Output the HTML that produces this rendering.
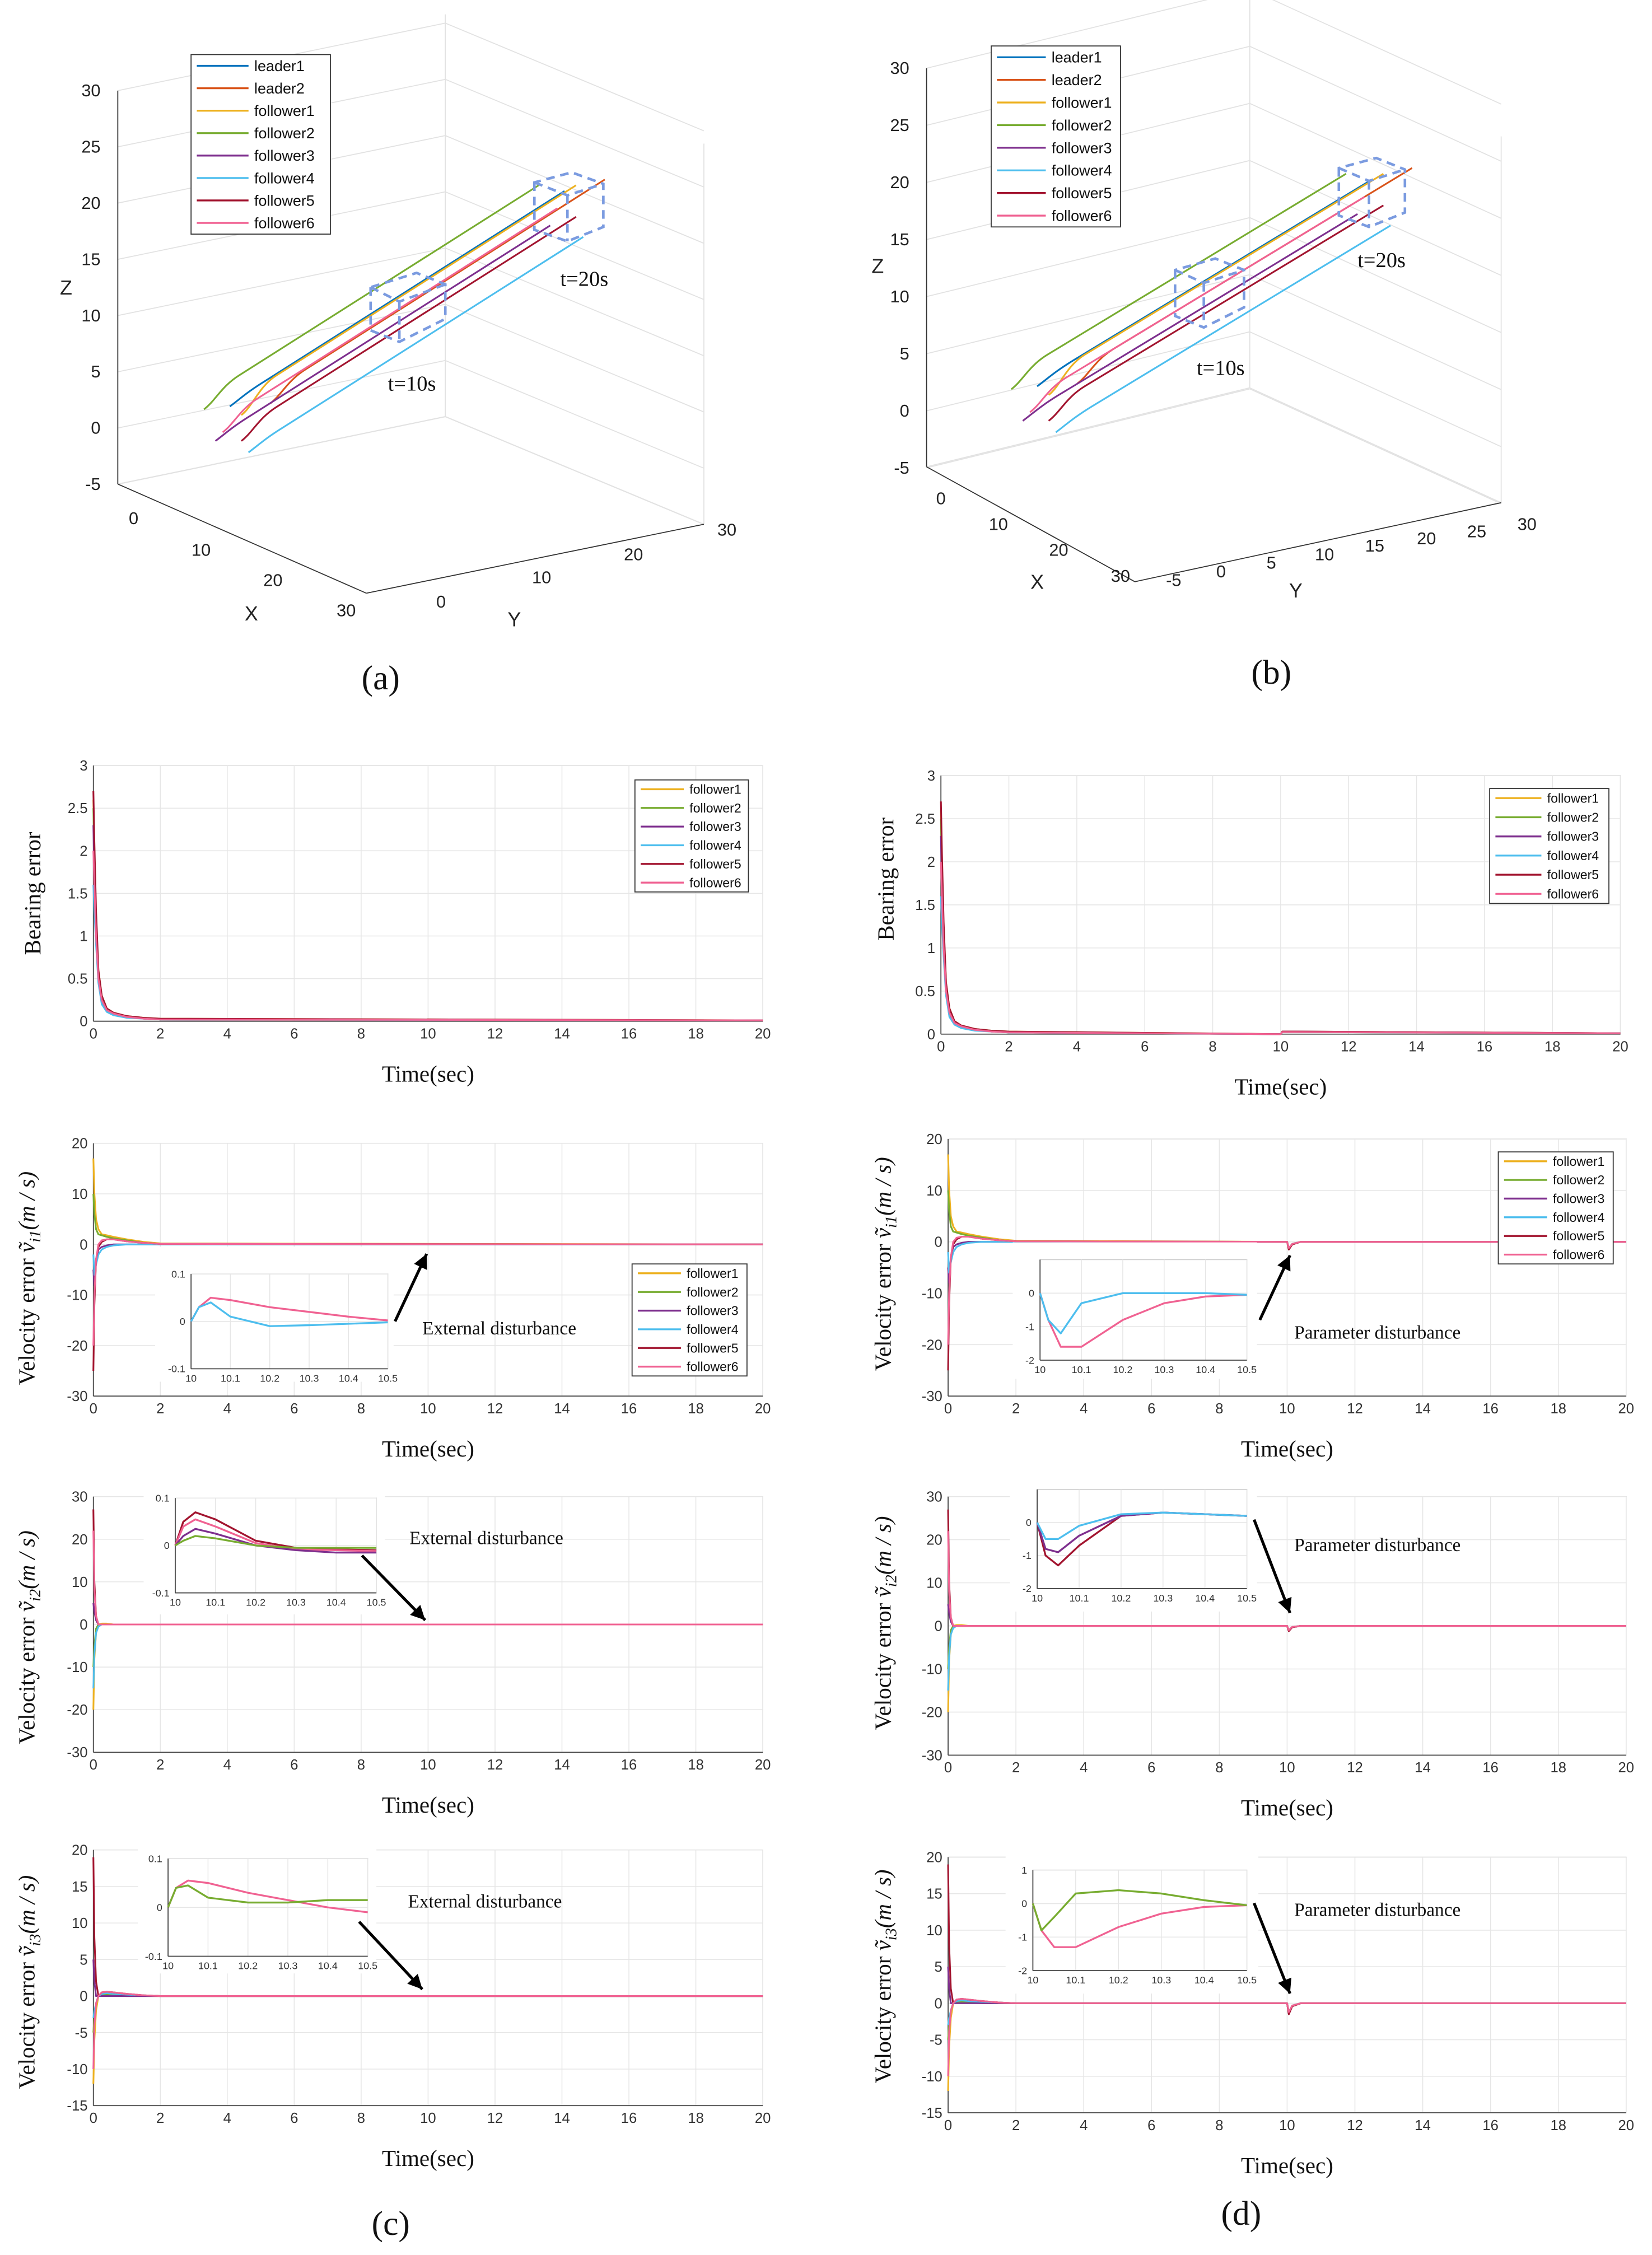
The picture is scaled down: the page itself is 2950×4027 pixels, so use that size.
<!DOCTYPE html>
<html><head><meta charset="utf-8"><style>html,body{margin:0;padding:0;background:#fff}svg{display:block}</style></head>
<body>
<svg id="fig" xmlns="http://www.w3.org/2000/svg" width="2950" height="4027" viewBox="0 0 1150 1570" preserveAspectRatio="none" font-family="Liberation Sans, sans-serif">
<rect width="1150" height="1570" fill="#fff"/>
<g id="root"></g>
</svg>
<script>
const NS='http://www.w3.org/2000/svg';
const root=document.getElementById('root');
function el(tag,attrs,parent,txt){const e=document.createElementNS(NS,tag);for(const k in attrs)e.setAttribute(k,attrs[k]);if(txt!==undefined)e.textContent=txt;(parent||root).appendChild(e);return e;}
const COL={leader1:'#0072BD',leader2:'#D95319',follower1:'#EDB120',follower2:'#77AC30',follower3:'#7E2F8E',follower4:'#4DBEEE',follower5:'#A2142F',follower6:'#F06292'};
const FNAMES=['follower1','follower2','follower3','follower4','follower5','follower6'];
const LNAMES=['leader1','leader2','follower1','follower2','follower3','follower4','follower5','follower6'];

// ---- time-series data ----
const T=[0,0.03,0.08,0.15,0.25,0.4,0.6,1,1.5,2,20];
const bearing=[[2.6,2.0,1.2,0.6,0.3,0.15,0.1,0.06,0.04,0.03,0.01],[2.5,1.9,1.1,0.5,0.25,0.13,0.09,0.05,0.03,0.02,0.01],[2.3,1.7,1.0,0.5,0.22,0.12,0.08,0.05,0.03,0.02,0.01],[1.6,1.3,0.9,0.45,0.2,0.11,0.07,0.04,0.03,0.02,0.01],[2.7,2.1,1.3,0.6,0.3,0.15,0.1,0.06,0.04,0.03,0.01],[2.0,1.6,1.0,0.5,0.25,0.13,0.09,0.05,0.03,0.02,0.01]];
const vel1=[[17,10,5,3,2,1.8,1.5,1,0.5,0.2,0],[10,6,3,2,1.8,1.5,1.2,0.8,0.3,0.1,0],[-5,-8,-3,-1,-0.5,-0.2,0,0,0,0,0],[-2,-6,-4,-2,-1,-0.5,-0.2,0,0,0,0],[-25,-12,-3,-0.5,0.5,1,1,0.6,0.3,0.1,0],[-20,-10,-3,0,0.8,1,1,0.6,0.3,0.1,0]];
const vel2=[[-20,-8,-2,0,0.2,0.2,0,0,0,0,0],[-10,-5,-1,0,0,0,0,0,0,0,0],[5,3,1,0,0,0,0,0,0,0,0],[-15,-7,-2,-0.5,0,0,0,0,0,0,0],[27,10,2,0,0,0,0,0,0,0,0],[22,8,2,0,0,0,0,0,0,0,0]];
const vel3=[[-12,-6,-2,0,0.3,0.4,0.3,0.2,0.1,0,0],[-5,-3,-1,0,0.2,0.2,0.1,0,0,0,0],[5,2,0,0,0,0,0,0,0,0,0],[-3,-2,-1,0,0.3,0.4,0.3,0.2,0.1,0,0],[19,8,2,0,0.5,0.6,0.5,0.3,0.1,0,0],[-10,-4,-1,0,0.5,0.6,0.5,0.3,0.1,0,0]];
// disturbance near t=10 (panel d)
const DT=[9.95,10.0,10.05,10.15,10.4];
const dist1=[0,0,-1.5,-0.5,0];
const dist2=[0,0,-1.2,-0.3,0];
const dist3=[0,0,-1.5,-0.4,0];
// inset data
const IT=[10,10.02,10.05,10.1,10.2,10.3,10.4,10.5];
const insC1=[[0,0.03,0.05,0.045,0.03,0.02,0.01,0.002],[0,0.03,0.04,0.01,-0.01,-0.008,-0.005,-0.002]];
const insD1=[[0,-0.8,-1.6,-1.6,-0.8,-0.3,-0.1,-0.05],[0,-0.8,-1.2,-0.3,0,0,0,-0.05]];
const insC2=[[0,0.05,0.07,0.055,0.01,-0.005,-0.008,-0.01],[0,0.04,0.055,0.04,0.005,-0.008,-0.01,-0.012],[0,0.02,0.035,0.025,0.0,-0.01,-0.015,-0.015],[0,0.01,0.02,0.015,0.0,-0.005,-0.005,-0.005]];
const insD2=[[0,-1,-1.3,-0.7,0.2,0.3,0.25,0.2],[0,-0.8,-0.9,-0.4,0.2,0.3,0.25,0.2],[0,-0.5,-0.5,-0.1,0.25,0.3,0.25,0.2]];
const insC3=[[0,0.04,0.055,0.05,0.03,0.015,0.0,-0.01],[0,0.04,0.045,0.02,0.01,0.01,0.015,0.015]];
const insD3=[[0,-0.8,-1.3,-1.3,-0.7,-0.3,-0.1,-0.05],[0,-0.8,-0.4,0.3,0.4,0.3,0.1,-0.05]];

function axis(o){
 const g=el('g',{});
 const X=v=>o.x0+(v-o.xmin)/(o.xmax-o.xmin)*(o.x1-o.x0);
 const Y=v=>o.y1-(v-o.ymin)/(o.ymax-o.ymin)*(o.y1-o.y0);
 el('rect',{x:o.x0,y:o.y0,width:o.x1-o.x0,height:o.y1-o.y0,fill:'#fff',stroke:'#ccc','stroke-width':0.6},g);
 o.xt.forEach(v=>{el('line',{x1:X(v),x2:X(v),y1:o.y0,y2:o.y1,stroke:'#e6e6e6','stroke-width':0.6},g);
  const t=el('text',{x:X(v),y:o.y1+o.fs+2,'font-size':o.fs,'text-anchor':'middle',fill:'#333'},g,String(v));});
 o.yt.forEach(v=>{el('line',{x1:o.x0,x2:o.x1,y1:Y(v),y2:Y(v),stroke:'#e6e6e6','stroke-width':0.6},g);
  const t=el('text',{x:o.x0-4,y:Y(v)+o.fs*0.35,'font-size':o.fs,'text-anchor':'end',fill:'#333'},g,String(v));});
 el('line',{x1:o.x0,x2:o.x1,y1:o.y1,y2:o.y1,stroke:'#444','stroke-width':0.7},g);
 el('line',{x1:o.x0,x2:o.x0,y1:o.y0,y2:o.y1,stroke:'#444','stroke-width':0.7},g);
 return {g,X,Y};
}
function series(ax,xs,ys,col,name,w){
 const p=xs.map((x,i)=>(i?'L':'M')+ax.X(x).toFixed(2)+','+ax.Y(ys[i]).toFixed(2)).join('');
 const e=el('path',{d:p,fill:'none',stroke:col,'stroke-width':w||1.2,'stroke-linejoin':'round'},ax.g);
 
}
function legend(x,y,w,h,names,fs,lw){
 const g=el('g',{});
 el('rect',{x,y,width:w,height:h,fill:'#fff',stroke:'#333','stroke-width':0.7},g);
 const step=h/names.length;
 names.forEach((n,i)=>{const yy=y+step*(i+0.5);
  el('line',{x1:x+4,x2:x+4+lw,y1:yy,y2:yy,stroke:COL[n],'stroke-width':1.3},g);
  const t=el('text',{x:x+8+lw,y:yy+fs*0.35,'font-size':fs,fill:'#111'},g,n);});
}
function serifText(x,y,s,size,name,rot,anchor){
 const a={x,y,'font-size':size,'font-family':'Liberation Serif, serif','text-anchor':anchor||'middle',fill:'#111'};
 if(rot)a.transform=`rotate(-90 ${x} ${y})`;
 const t=el('text',a,root,s);return t;
}
function ylab(x,y,sub){
 const t=el('text',{x,y,'font-size':16,'font-family':'Liberation Serif, serif','text-anchor':'middle',fill:'#111',transform:`rotate(-90 ${x} ${y})`});
 
 t.innerHTML='Velocity error  <tspan font-style="italic">ṽ</tspan><tspan font-style="italic" font-size="11" dy="4">i'+sub+'</tspan><tspan dy="-4" font-style="italic">(m / s)</tspan>';
}
function arrow(x1,y1,x2,y2){
 const g=el('g',{});
 el('line',{x1,y1,x2,y2,stroke:'#000','stroke-width':2},g);
 const a=Math.atan2(y2-y1,x2-x1),L=10,W=5;
 const p=[[x2,y2],[x2-L*Math.cos(a)+W*Math.sin(a),y2-L*Math.sin(a)-W*Math.cos(a)],[x2-L*Math.cos(a)-W*Math.sin(a),y2-L*Math.sin(a)+W*Math.cos(a)]];
 el('polygon',{points:p.map(q=>q.join(',')).join(' '),fill:'#000'},g);
}
const XT=[0,2,4,6,8,10,12,14,16,18,20];
function mainPlot(o,data,dist,cols){
 const ax=axis({name:o.name,x0:o.x0,x1:o.x1,y0:o.y0,y1:o.y1,xmin:0,xmax:20,ymin:o.ymin,ymax:o.ymax,xt:XT,yt:o.yt,fs:10});
 data.forEach((ys,i)=>{
  let xs=T.slice(),vs=ys.slice();
  if(dist){const last=xs.pop();const lv=vs.pop();xs=xs.concat(DT,[last]);vs=vs.concat(dist.map(d=>d*(i%2?0.8:1)),[lv]);}
  series(ax,xs,vs,COL[FNAMES[i]],FNAMES[i]+'-line');
 });
 serifText((o.x0+o.x1)/2,o.y1+42,'Time(sec)',16,'x-axis-title');
 return ax;
}
function inset(o,data,cols){
 el('rect',{x:o.bx,y:o.by,width:o.bw,height:o.bh,fill:'#fff'});
 const ax=axis({name:'inset-plot',x0:o.x0,x1:o.x1,y0:o.y0,y1:o.y1,xmin:10,xmax:10.5,ymin:o.ymin,ymax:o.ymax,xt:[10,10.1,10.2,10.3,10.4,10.5],yt:o.yt,fs:7});
 data.forEach((ys,i)=>series(ax,IT,ys,cols[i],'inset-line',1.3));
}

// ---------- 3D panels ----------
function panel3d(o){
 const g=el('g',{});
 const gl=(a,b,c)=>el('line',{x1:a[0],y1:a[1],x2:b[0],y2:b[1],stroke:c||'#e2e2e2','stroke-width':0.7},g);
 o.zt.forEach((z,i)=>{const y=o.zy(z);gl([o.L[0],y],[o.B[0],y-(o.L[1]-o.B[1])]);gl([o.B[0],y-(o.L[1]-o.B[1])],[o.R[0],y-(o.L[1]-o.B[1])+(o.R[1]-o.B[1])]);});
 gl([o.B[0],o.B[1]],[o.B[0],o.top]);
 gl(o.L,o.B);gl(o.B,o.R);
 gl([o.R[0],o.R[1]],[o.R[0],o.rtop]);
 gl(o.L,o.F,'#333');gl(o.F,o.R,'#333');gl([o.L[0],o.L[1]],[o.L[0],o.zy(30)],'#333');
 o.zt.forEach(z=>{const t=el('text',{x:o.L[0]-12,y:o.zy(z)+4,'font-size':12,'text-anchor':'end',fill:'#222'},g,String(z));});
 o.xl.forEach(q=>{const t=el('text',{x:q[0],y:q[1],'font-size':12,'text-anchor':'middle',fill:'#222'},g,q[2]);});
 o.yl.forEach(q=>{const t=el('text',{x:q[0],y:q[1],'font-size':12,'text-anchor':'middle',fill:'#222'},g,q[2]);});
 [['X',o.X],['Y',o.Y],['Z',o.Z]].forEach(q=>{const t=el('text',{x:q[1][0],y:q[1][1],'font-size':14,'text-anchor':'middle',fill:'#222'},g,q[0]);});
 o.traj.forEach(tr=>{const p=el('path',{d:tr[1],fill:'none',stroke:COL[tr[0]],'stroke-width':1.2},g);});
 o.boxes.forEach(b=>{const p=el('path',{d:b,fill:'none',stroke:'#7b9be0','stroke-width':1.8,'stroke-dasharray':'6 4'},g);});
 o.tl.forEach(q=>{const t=el('text',{x:q[0],y:q[1],'font-size':15,'font-family':'Liberation Serif, serif',fill:'#111'},g,q[2]);});
}
function mkTraj(sx,sy,ex,ey,offs){return LNAMES.map((n,i)=>{const d=offs[i];return [n,`M${sx+d[0]},${sy+d[1]+d[2]} C${sx+d[0]+8},${sy+d[1]+d[2]-6} ${sx+d[0]+12},${sy+d[1]-10} ${sx+d[0]+25},${sy+d[1]-18} L${ex+d[0]},${ey+d[1]}`];});}
const offA=[[0,0,0],[28,-8,6],[8,-4,10],[-18,-4,6],[-10,24,0],[13,32,0],[8,18,6],[-5,12,6]];
panel3d({name:'panel-a-3d',L:[82,337],B:[310,290],R:[490,365],F:[255,413],top:10,rtop:100,zy:z=>298-z*7.83,zt:[-5,0,5,10,15,20,25,30],
 xl:[[93,365,'0'],[140,387,'10'],[190,408,'20'],[241,429,'30']],yl:[[307,423,'0'],[377,406,'10'],[441,390,'20'],[506,373,'30']],
 X:[175,432],Y:[358,436],Z:[46,205],
 traj:mkTraj(160,283,393,133,offA),
 boxes:['M258,200 L258,230 L278,238 L310,222 L310,198 L290,190 Z M258,200 L278,210 L310,198 M278,210 L278,238','M372,127 L372,160 L395,168 L420,158 L420,128 L398,120 Z M372,127 L395,136 L420,128 M395,136 L395,168'],
 tl:[[270,272,'t=10s'],[390,199,'t=20s']]});
legend(133,38,97,125,LNAMES,10.5,36);
panel3d({name:'panel-b-3d',L:[645,325],B:[870,270],R:[1045,350],F:[790,405],top:0,rtop:95,zy:z=>286-z*7.95,zt:[-5,0,5,10,15,20,25,30],
 xl:[[655,351,'0'],[695,369,'10'],[737,387,'20'],[780,405,'30']],yl:[[817,408,'-5'],[850,402,'0'],[885,396,'5'],[922,390,'10'],[957,384,'15'],[993,379,'20'],[1028,374,'25'],[1063,369,'30']],
 X:[722,410],Y:[902,416],Z:[611,190],
 traj:mkTraj(722,269,955,125,offA),
 boxes:['M818,188 L818,220 L838,228 L866,214 L866,188 L846,180 Z M818,188 L838,197 L866,188 M838,197 L838,228','M932,117 L932,150 L953,158 L978,148 L978,118 L958,110 Z M932,117 L953,126 L978,118 M953,126 L953,158'],
 tl:[[833,261,'t=10s'],[945,186,'t=20s']]});
legend(690,32,90,126,LNAMES,10.5,34);
serifText(265,480,'(a)',24,'panel-label-a');serifText(885,476,'(b)',24,'panel-label-b');

mainPlot({name:'bearing-error-c',x0:65,x1:531,y0:533,y1:711,ymin:0,ymax:3,yt:[0,0.5,1,1.5,2,2.5,3]},bearing,null);
legend(442,543,79,78,FNAMES,9,30);
serifText(28,622,'Bearing error',16,'y-axis-title',true);
mainPlot({name:'bearing-error-d',x0:655,x1:1128,y0:540,y1:720,ymin:0,ymax:3,yt:[0,0.5,1,1.5,2,2.5,3]},bearing,[0,0,0.03,0.03,0.03]);
legend(1037,549,83,80,FNAMES,9,32);
serifText(622,612,'Bearing error',16,'y-axis-title',true);

mainPlot({name:'velocity-error-1-c',x0:65,x1:531,y0:796,y1:972,ymin:-30,ymax:20,yt:[-30,-20,-10,0,10,20]},vel1,null);
legend(440,880,80,78,FNAMES,9,30);
inset({bx:108,by:868,bw:166,bh:94,x0:133,x1:270,y0:887,y1:953,ymin:-0.1,ymax:0.1,yt:[-0.1,0,0.1]},insC1,[COL.follower6,COL.follower4]);
ylab(24,890,'1');arrow(275,920,297,873);
serifText(294,929,'External disturbance',13,'annotation-text',false,'start');
mainPlot({name:'velocity-error-1-d',x0:660,x1:1132,y0:793,y1:972,ymin:-30,ymax:20,yt:[-30,-20,-10,0,10,20]},vel1,dist1);
legend(1043,802,80,78,FNAMES,9,30);
inset({bx:705,by:865,bw:170,bh:95,x0:724,x1:868,y0:877,y1:947,ymin:-2,ymax:1,yt:[-2,-1,0]},insD1,[COL.follower6,COL.follower4]);
ylab(620,880,'1');arrow(877,919,898,874);
serifText(901,932,'Parameter disturbance',13,'annotation-text',false,'start');

mainPlot({name:'velocity-error-2-c',x0:65,x1:531,y0:1042,y1:1220,ymin:-30,ymax:30,yt:[-30,-20,-10,0,10,20,30]},vel2,null);
inset({bx:100,by:1036,bw:168,bh:88,x0:122,x1:262,y0:1043,y1:1109,ymin:-0.1,ymax:0.1,yt:[-0.1,0,0.1]},insC2,[COL.follower5,COL.follower6,COL.follower3,COL.follower2]);
ylab(24,1140,'2');arrow(252,1083,296,1128);
serifText(285,1075,'External disturbance',13,'annotation-text',false,'start');
mainPlot({name:'velocity-error-2-d',x0:660,x1:1132,y0:1042,y1:1222,ymin:-30,ymax:30,yt:[-30,-20,-10,0,10,20,30]},vel2,dist2);
inset({bx:703,by:1028,bw:172,bh:94,x0:722,x1:868,y0:1037,y1:1106,ymin:-2,ymax:1,yt:[-2,-1,0]},insD2,[COL.follower5,COL.follower3,COL.follower4]);
ylab(620,1130,'2');arrow(873,1058,898,1123);
serifText(901,1080,'Parameter disturbance',13,'annotation-text',false,'start');

mainPlot({name:'velocity-error-3-c',x0:65,x1:531,y0:1288,y1:1466,ymin:-15,ymax:20,yt:[-15,-10,-5,0,5,10,15,20]},vel3,null);
inset({bx:96,by:1284,bw:166,bh:90,x0:117,x1:256,y0:1294,y1:1362,ymin:-0.1,ymax:0.1,yt:[-0.1,0,0.1]},insC3,[COL.follower6,COL.follower2]);
ylab(24,1380,'3');arrow(250,1338,294,1385);
serifText(284,1328,'External disturbance',13,'annotation-text',false,'start');
mainPlot({name:'velocity-error-3-d',x0:660,x1:1132,y0:1293,y1:1471,ymin:-15,ymax:20,yt:[-15,-10,-5,0,5,10,15,20]},vel3,dist3);
inset({bx:700,by:1290,bw:176,bh:98,x0:719,x1:868,y0:1302,y1:1372,ymin:-2,ymax:1,yt:[-2,-1,0,1]},insD3,[COL.follower6,COL.follower2]);
ylab(620,1376,'3');arrow(873,1325,898,1388);
serifText(901,1334,'Parameter disturbance',13,'annotation-text',false,'start');

serifText(272,1556,'(c)',24,'panel-label-c');serifText(864,1549,'(d)',24,'panel-label-d');
</script>
</body></html>
